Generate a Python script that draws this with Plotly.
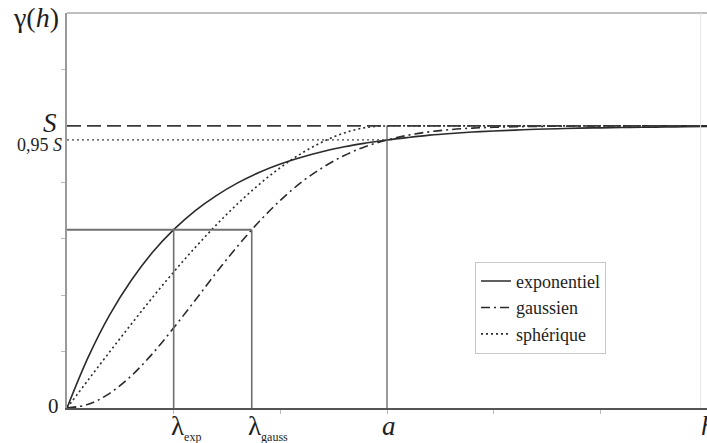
import plotly.graph_objects as go

# distance h (units where a = 3)
h = [0.0, 0.2, 0.4, 0.6, 0.8, 1.0, 1.2, 1.4, 1.6, 1.8, 2.0, 2.2, 2.4, 2.6, 2.8, 3.0,
     3.2, 3.4, 3.6, 3.8, 4.0, 4.2, 4.4, 4.6, 4.8, 5.0, 5.2, 5.4, 5.6, 5.8, 6.0]
exponentiel = [0.0, 0.181, 0.330, 0.451, 0.551, 0.632, 0.699, 0.753, 0.798, 0.835, 0.865,
               0.889, 0.909, 0.926, 0.939, 0.950, 0.959, 0.967, 0.973, 0.978, 0.982,
               0.985, 0.988, 0.990, 0.992, 0.993, 0.994, 0.995, 0.996, 0.997, 0.998]
gaussien = [0.0, 0.013, 0.052, 0.113, 0.192, 0.284, 0.381, 0.480, 0.574, 0.660, 0.736,
            0.801, 0.853, 0.895, 0.927, 0.950, 0.967, 0.979, 0.987, 0.992, 0.995,
            0.997, 0.998, 0.999, 0.9995, 1.0, 1.0, 1.0, 1.0, 1.0, 1.0]
spherique = [0.0, 0.100, 0.199, 0.296, 0.391, 0.482, 0.568, 0.649, 0.724, 0.792, 0.852,
             0.903, 0.944, 0.975, 0.994, 1.0, 1.0, 1.0, 1.0, 1.0, 1.0,
             1.0, 1.0, 1.0, 1.0, 1.0, 1.0, 1.0, 1.0, 1.0, 1.0]

sill = 1.0          # S
sill95 = 0.95       # 0,95 S
a_range = 3.0       # a
lambda_exp = 1.0
lambda_gauss = 1.732
level_lambda = 0.632
x_max = 6.0
y_max = 1.4

SERIF = "Liberation Serif"
DARK = "#2b2b2b"

fig = go.Figure()

# reference lines
fig.add_shape(type="line", x0=0, x1=x_max, y0=sill, y1=sill, xref="x", yref="y",
              line=dict(color="#3a3a3a", width=1.6, dash="14px,6px"))
fig.add_shape(type="line", x0=0, x1=a_range, y0=sill95, y1=sill95, xref="x", yref="y",
              line=dict(color="#444", width=1.3, dash="2px,3px"))
fig.add_shape(type="line", x0=0, x1=lambda_gauss, y0=level_lambda, y1=level_lambda,
              xref="x", yref="y", line=dict(color="#707070", width=2))
fig.add_shape(type="line", x0=lambda_exp, x1=lambda_exp, y0=0, y1=level_lambda,
              xref="x", yref="y", line=dict(color="#707070", width=1.6))
fig.add_shape(type="line", x0=lambda_gauss, x1=lambda_gauss, y0=0, y1=level_lambda,
              xref="x", yref="y", line=dict(color="#707070", width=1.6))
fig.add_shape(type="line", x0=a_range, x1=a_range, y0=0, y1=sill,
              xref="x", yref="y", line=dict(color="#555", width=1.2))
# frame top and faint right edge
fig.add_shape(type="line", x0=0, x1=1, y0=1, y1=1, xref="paper", yref="paper",
              line=dict(color="#aaaaaa", width=1.5))
fig.add_shape(type="line", x0=0.99, x1=0.99, y0=0, y1=1, xref="paper", yref="paper",
              line=dict(color="#e6e6e6", width=1))

fig.add_trace(go.Scatter(x=h, y=exponentiel, mode="lines", name="exponentiel",
                         line=dict(color=DARK, width=1.6, shape="spline")))
fig.add_trace(go.Scatter(x=h, y=gaussien, mode="lines", name="gaussien",
                         line=dict(color=DARK, width=1.6, shape="spline", dash="9px,4px,2px,4px")))
fig.add_trace(go.Scatter(x=h, y=spherique, mode="lines", name="sphérique",
                         line=dict(color=DARK, width=1.6, shape="spline", dash="2px,3px")))

ann = []
def label(text, x, y, size, xanchor="center", yanchor="middle", xref="x", yref="y", xshift=0, yshift=0):
    ann.append(dict(text=text, x=x, y=y, xref=xref, yref=yref, showarrow=False,
                    xanchor=xanchor, yanchor=yanchor, xshift=xshift, yshift=yshift,
                    font=dict(family=SERIF, size=size, color="#1e1e1e")))

label("γ(<i>h</i>)", 0, 1, 28, xanchor="right", yanchor="top", xref="paper", yref="paper", xshift=-6, yshift=13)
label("<i>S</i>", 0, sill, 27, xanchor="right", xshift=-8, yshift=3)
label("0,95 <i>S</i>", 0, sill95, 18, xanchor="right", xshift=-3, yshift=-5)
label("0", 0, 0, 21, xanchor="right", xshift=-6, yshift=2)
label("λ<sub><span style='font-size:12px'>exp</span></sub>", lambda_exp, 0, 27, xanchor="left", yanchor="top", xshift=-5, yshift=-1)
label("λ<sub><span style='font-size:12px'>gauss</span></sub>", lambda_gauss, 0, 27, xanchor="left", yanchor="top", xshift=-6, yshift=-1)
label("<i>a</i>", a_range, 0, 27, yanchor="top", xshift=2, yshift=-1)
label("<i>h</i>", x_max, 0, 27, xanchor="left", yanchor="top", xshift=-8, yshift=-1)

fig.update_layout(
    width=707, height=443,
    margin=dict(l=67, r=0, t=13, b=35),
    paper_bgcolor="white", plot_bgcolor="white",
    showlegend=True,
    legend=dict(x=0.6375, y=0.37, xanchor="left", yanchor="top",
                bordercolor="#c8c8c8", borderwidth=1, bgcolor="white",
                font=dict(family=SERIF, size=18, color="#1e1e1e"),
                itemwidth=30, tracegroupgap=0),
    annotations=ann,
    xaxis=dict(range=[0, x_max], showgrid=False, zeroline=False, showline=True,
               linecolor="#555", linewidth=1.5, ticks="outside", ticklen=4,
               tickcolor="#bbb", tickvals=[1, 2, 3, 4, 5], showticklabels=False, fixedrange=True),
    yaxis=dict(range=[0, y_max], showgrid=False, zeroline=False, showline=True,
               linecolor="#999", linewidth=1.5, ticks="outside", ticklen=4,
               tickcolor="#bbb", tickvals=[0.2, 0.4, 0.6, 0.8, 1.2], showticklabels=False, fixedrange=True),
)

fig.write_html("out.html", config={"displayModeBar": False},
               post_script="document.body.style.margin='0';document.body.style.overflow='hidden';")
